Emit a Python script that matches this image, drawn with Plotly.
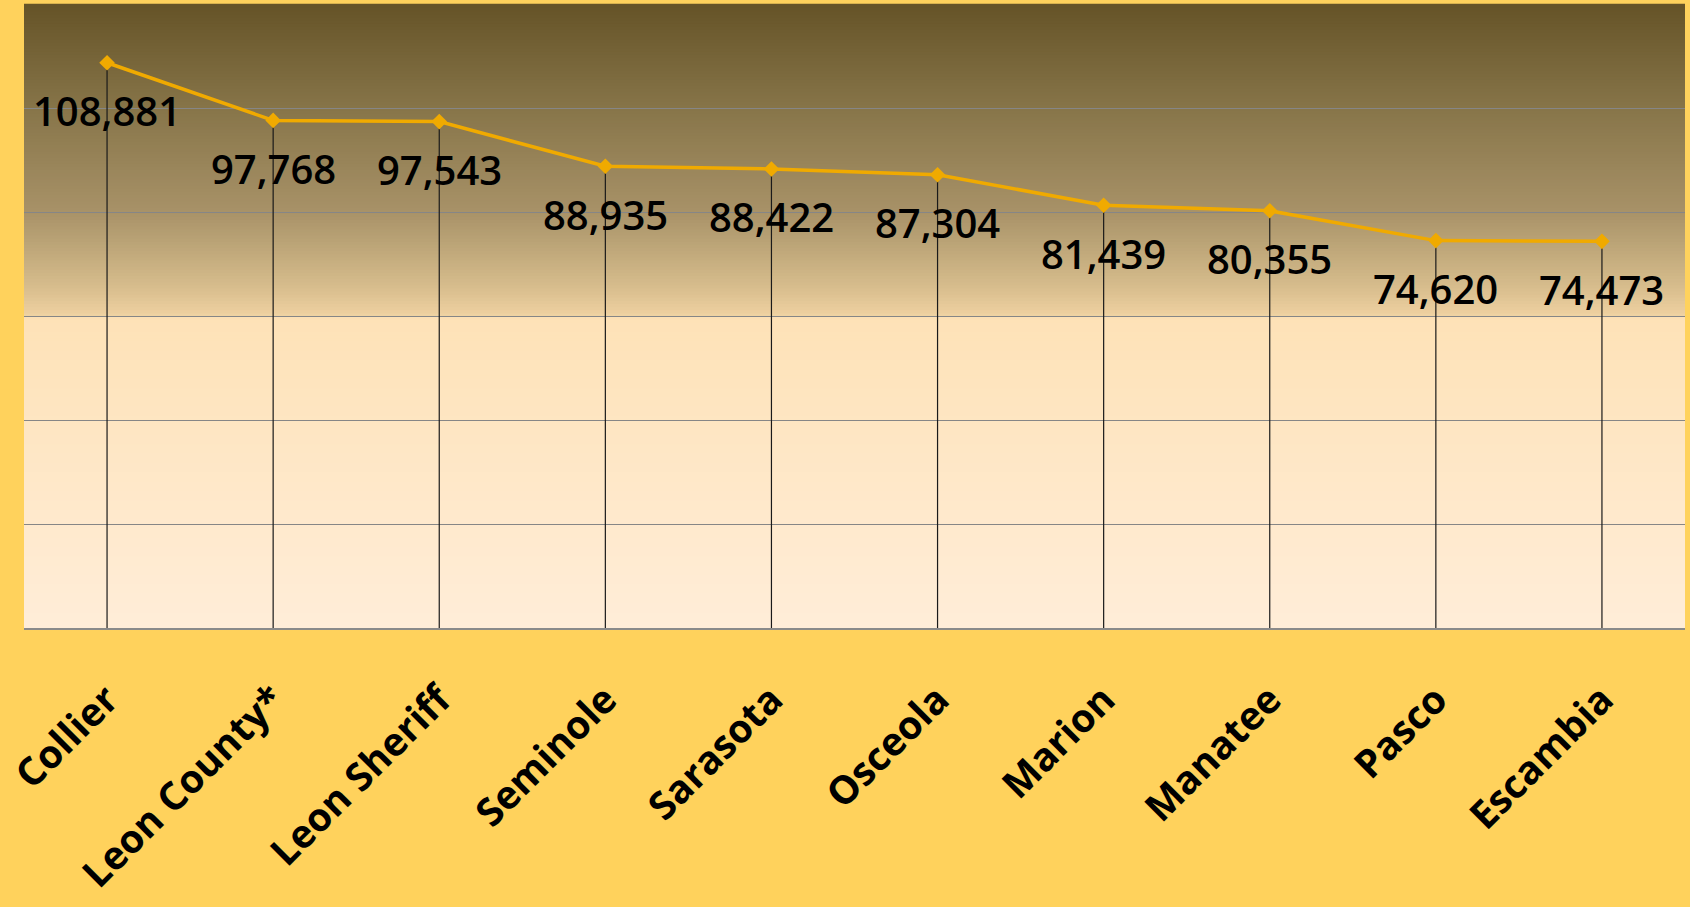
import plotly.graph_objects as go

categories = ["Collier", "Leon County*", "Leon Sheriff", "Seminole", "Sarasota",
              "Osceola", "Marion", "Manatee", "Pasco", "Escambia"]
values = [108881, 97768, 97543, 88935, 88422, 87304, 81439, 80355, 74620, 74473]
labels = [f"{v:,}" for v in values]

fig = go.Figure()

fig.add_trace(go.Scatter(
    x=categories, y=values, mode="lines+markers",
    line=dict(color="#F0AA00", width=3.5),
    marker=dict(symbol="diamond", size=12, color="#F0AA00"),
    error_y=dict(type="data", symmetric=False, array=[0] * len(values),
                 arrayminus=values, color="#1a1a1a", thickness=1.2, width=0),
    hoverinfo="skip", showlegend=False,
))

for c, v, t in zip(categories, values, labels):
    fig.add_annotation(x=c, y=v, text=t, showarrow=False, yshift=-48,
                       font=dict(family="Open Sans", size=40, color="#000000", weight=600))

# gradient background of plot area (piecewise colour stops, fraction from bottom)
stops = [(0.0, (255, 237, 216)), (0.497, (254, 226, 183)), (0.503, (238, 208, 160)),
         (0.55, (214, 188, 140)), (0.60, (194, 170, 124)), (0.667, (168, 146, 104)),
         (0.833, (135, 117, 73)), (1.0, (102, 84, 40))]

def col_at(f):
    for (f0, c0), (f1, c1) in zip(stops[:-1], stops[1:]):
        if f0 <= f <= f1:
            t = (f - f0) / (f1 - f0) if f1 > f0 else 0
            return "rgb(%d,%d,%d)" % tuple(round(a + (b - a) * t) for a, b in zip(c0, c1))
    return "rgb(%d,%d,%d)" % stops[-1][1]

n = 200
shapes = []
for i in range(n):
    f0 = i / n
    f1 = (i + 1) / n
    shapes.append(dict(type="rect", xref="x domain", yref="y domain",
                       x0=0, x1=1, y0=f0, y1=f1 + 0.002, layer="below",
                       line=dict(width=0), fillcolor=col_at((f0 + f1) / 2)))

fig.update_layout(
    width=1690, height=907,
    margin=dict(l=24, r=5, t=5, b=279),
    paper_bgcolor="#FFD25C",
    plot_bgcolor="#FFEDD8",
    shapes=shapes,
    showlegend=False,
    xaxis=dict(type="category", range=[-0.5, 9.5], showgrid=False, automargin=False,
               showline=True, linecolor="#8a8a8a", linewidth=2,
               tickangle=-45, ticklabelstandoff=31,
               tickfont=dict(family="Open Sans", size=39, color="#000000", weight=700)),
    yaxis=dict(range=[0, 120000], dtick=20000, showticklabels=False, automargin=False,
               showgrid=True, gridcolor="#868686", gridwidth=1.2, zeroline=False,
               showline=False),
)

fig.write_html("out.html", config={"displayModeBar": False},
               post_script="document.body.style.margin='0';document.body.style.overflow='hidden';")
